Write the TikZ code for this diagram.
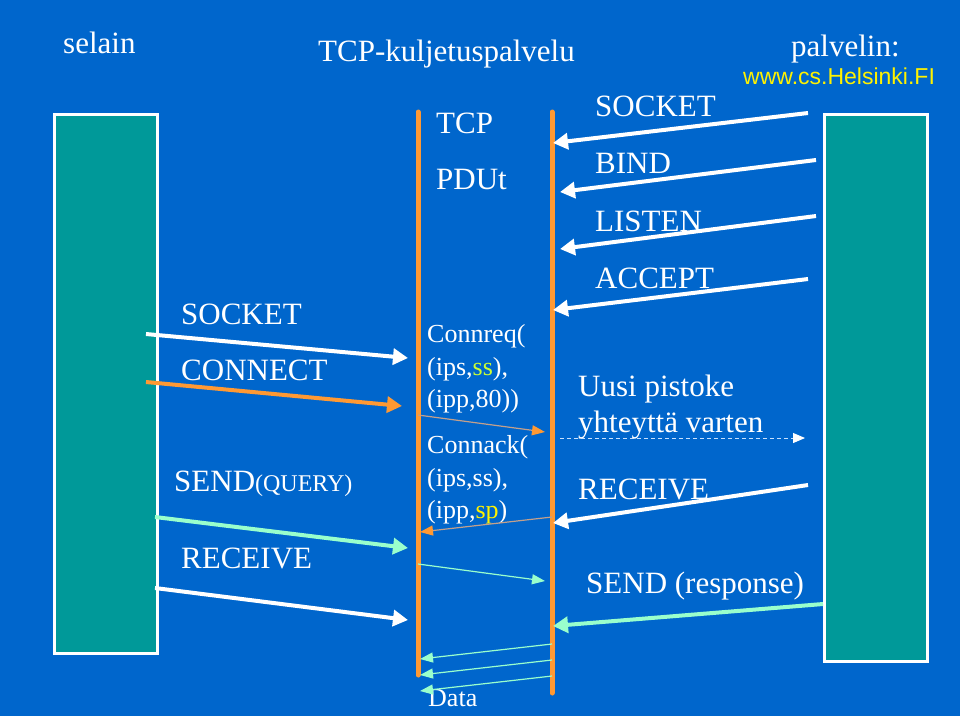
\documentclass[tikz,border=0pt]{standalone}
\usepackage{fontspec}
\setmainfont{Liberation Serif}
\newfontfamily\urlfont{Liberation Sans}
\usetikzlibrary{arrows.meta}
\definecolor{slideblue}{RGB}{0,102,204}
\definecolor{boxteal}{RGB}{0,153,153}
\definecolor{lineorange}{RGB}{255,153,51}
\definecolor{mint}{RGB}{153,255,204}
\definecolor{tanline}{RGB}{195,160,140}
\definecolor{limey}{RGB}{204,255,51}
\definecolor{paleblue}{RGB}{200,225,255}

\tikzset{
  bigarrow/.style={line width=4pt, -{Triangle[length=15pt,width=16pt]}},
  pduarrow/.style={line width=1.2pt, -{Triangle[length=13pt,width=10pt]}},
  hostbox/.style={draw=white, line width=3pt, fill=boxteal, anchor=north west},
  tcpline/.style={lineorange, line width=5pt, line cap=round},
  lbl/.style={anchor=base west, text=white, inner sep=0pt, font=\fontsize{31}{31}\selectfont},
  pdu/.style={anchor=base west, text=white, inner sep=0pt, font=\fontsize{26}{26}\selectfont}
}

\begin{document}
\begin{tikzpicture}[x=1pt,y=-1pt]
        \useasboundingbox (0,0) rectangle (960,716);
        \fill[slideblue] (0,0) rectangle (960,716);

        \node[hostbox, minimum width=103pt, minimum height=539pt] (client) at (52.5,112.5) {};
        \node[hostbox, minimum width=103pt, minimum height=547pt] (server) at (822.5,112.5) {};
        \draw[tcpline] (418,112) coordinate (tcpLtop) -- (418,675) coordinate (tcpLbot);
        \draw[tcpline] (552,112) coordinate (tcpRtop) -- (552,693) coordinate (tcpRbot);

        \node[lbl] (selain) at (63,53) {selain};
        \node[lbl] (kuljetus) at (318,61) {TCP-kuljetuspalvelu};
        \node[lbl] (palvelin) at (791,56) {palvelin:};
        \node[anchor=base west, inner sep=0pt, text=yellow, font=\urlfont\fontsize{23}{23}\selectfont] (url) at (743,84) {www.cs.Helsinki.FI};
        \node[lbl] (tcp) at (436,133) {TCP};
        \node[lbl] (pdut) at (436,189) {PDUt};

        \node[lbl] (ssocket) at (595,116) {SOCKET};
        \node[lbl] (bind) at (595,173) {BIND};
        \node[lbl] (listen) at (595,231) {LISTEN};
        \node[lbl] (accept) at (595,288) {ACCEPT};
        \node[lbl] (uusi) at (578,396) {Uusi pistoke};
        \node[lbl] (varten) at (578,432) {yhteyttä varten};
        \node[lbl] (sreceive) at (578,499) {RECEIVE};
        \node[lbl] (ssend) at (586,593) {SEND (response)};

        \node[lbl] (csocket) at (181,324) {SOCKET};
        \node[lbl] (connect) at (181,380) {CONNECT};
        \node[lbl] (csend) at (174,491) {SEND{\fontsize{24}{24}\selectfont(QUERY)}};
        \node[lbl] (creceive) at (181,568) {RECEIVE};

        \node[pdu] (connreq) at (427,342) {Connreq(};
        \node[pdu] (connreqa) at (427,375) {(ips,\textcolor{limey}{ss}),};
        \node[pdu] (connreqb) at (427,407) {(ipp,80))};
        \node[pdu] (connack) at (427,453) {Connack(};
        \node[pdu] (connacka) at (427,486) {(ips,ss),};
        \node[pdu] (connackb) at (427,518) {(ipp,\textcolor{yellow}{sp})};
        \node[pdu] (data) at (428,706) {Data};

        \coordinate (cs1) at (146,334);  \coordinate (cs2) at (408,358);
        \coordinate (cc1) at (146,382);  \coordinate (cc2) at (402,406);
        \coordinate (cq1) at (155,517);  \coordinate (cq2) at (408,548);
        \coordinate (cr1) at (155,588);  \coordinate (cr2) at (408,620);
        \draw[bigarrow, white] (cs1) -- (cs2);
        \draw[bigarrow, lineorange] (cc1) -- (cc2);
        \draw[bigarrow, mint] (cq1) -- (cq2);
        \draw[bigarrow, white] (cr1) -- (cr2);

        \coordinate (ss1) at (808,113);  \coordinate (ss2) at (553,143);
        \coordinate (sb1) at (816,160);  \coordinate (sb2) at (560,192);
        \coordinate (sl1) at (816,216);  \coordinate (sl2) at (560,249);
        \coordinate (sa1) at (808,279);  \coordinate (sa2) at (553,310);
        \coordinate (sr1) at (808,485);  \coordinate (sr2) at (553,523);
        \coordinate (sd1) at (823,604);  \coordinate (sd2) at (553,626);
        \draw[bigarrow, white] (ss1) -- (ss2);
        \draw[bigarrow, white] (sb1) -- (sb2);
        \draw[bigarrow, white] (sl1) -- (sl2);
        \draw[bigarrow, white] (sa1) -- (sa2);
        \draw[bigarrow, white] (sr1) -- (sr2);
        \draw[bigarrow, mint] (sd1) -- (sd2);

        \coordinate (nw1) at (560,438);  \coordinate (nw2) at (805,438);
        \draw[paleblue, line width=1pt, dash pattern=on 4pt off 3pt,
              -{Triangle[length=12pt,width=10pt,white]}] (nw1) -- (nw2);

        \coordinate (rq1) at (418,415);  \coordinate (rq2) at (545,432);
        \coordinate (ak1) at (552,517);  \coordinate (ak2) at (420,532);
        \coordinate (dq1) at (418,564);  \coordinate (dq2) at (545,581);
        \draw[pduarrow, tanline, -{Triangle[length=13pt,width=10pt,lineorange]}] (rq1) -- (rq2);
        \draw[pduarrow, tanline, -{Triangle[length=13pt,width=10pt,lineorange]}] (ak1) -- (ak2);
        \draw[pduarrow, mint] (dq1) -- (dq2);
        \foreach \k/\ya/\yb in {1/644/659, 2/660/675, 3/676/691}{
          \coordinate (dr\k) at (552,\ya);
          \coordinate (dl\k) at (420,\yb);
          \draw[pduarrow, mint] (dr\k) -- (dl\k);
        }
    \end{tikzpicture}
\end{document}
